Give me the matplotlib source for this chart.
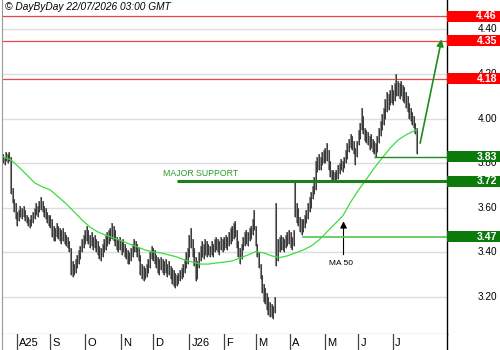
import matplotlib
matplotlib.use("Agg")
import matplotlib.pyplot as plt
import matplotlib.transforms as mtrans
from matplotlib.patches import Rectangle
import numpy as np
import pandas as pd

plt.rcParams['font.family'] = ['Liberation Sans', 'DejaVu Sans']

# ---------------- data ----------------
dates = pd.bdate_range('2025-07-21', '2026-07-22')

hi = [
3.84,3.83,3.85,3.84,3.85,3.83,3.69,3.64,3.62,3.58,
3.59,3.61,3.60,3.61,3.59,3.57,3.56,3.55,3.57,3.58,
3.60,3.62,3.61,3.63,3.65,3.63,3.61,3.60,3.58,3.57,
3.57,3.55,3.52,3.51,3.53,3.52,3.51,3.50,3.51,3.49,
3.48,3.47,3.45,3.42,3.36,3.35,3.37,3.39,3.41,3.43,
3.46,3.48,3.50,3.52,3.50,3.48,3.49,3.47,3.48,3.46,
3.45,3.43,3.42,3.44,3.46,3.48,3.49,3.50,3.51,3.53,
3.52,3.50,3.47,3.46,3.47,3.45,3.46,3.44,3.42,3.41,
3.40,3.42,3.44,3.46,3.45,3.44,3.42,3.39,3.35,3.34,
3.33,3.35,3.37,3.40,3.43,3.42,3.41,3.39,3.38,3.37,
3.38,3.37,3.36,3.37,3.35,3.36,3.34,3.33,3.32,3.31,
3.30,3.31,3.32,3.33,3.35,3.37,3.40,3.42,3.48,3.51,
3.46,3.42,3.38,3.36,3.40,3.43,3.45,3.44,3.46,3.45,
3.44,3.43,3.45,3.44,3.46,3.47,3.46,3.45,3.47,3.46,
3.47,3.48,3.47,3.49,3.51,3.52,3.53,3.54,3.50,3.45,
3.42,3.44,3.47,3.49,3.50,3.49,3.51,3.52,3.55,3.59,
3.52,3.44,3.40,3.35,3.30,3.26,3.24,3.22,3.20,3.18,
3.17,3.16,3.20,3.62,3.46,3.47,3.48,3.47,3.46,3.48,
3.49,3.50,3.49,3.47,3.50,3.72,3.62,3.60,3.56,3.55,
3.55,3.57,3.59,3.62,3.65,3.67,3.70,3.74,3.81,3.83,
3.84,3.83,3.85,3.86,3.87,3.89,3.86,3.81,3.77,3.77,
3.76,3.77,3.79,3.80,3.82,3.81,3.83,3.86,3.89,3.91,
3.93,3.92,3.90,3.87,3.90,3.95,3.98,4.05,4.01,3.96,
3.95,3.94,3.92,3.93,3.91,3.90,3.89,3.92,3.96,3.99,
4.02,4.05,4.09,4.12,4.11,4.13,4.15,4.13,4.16,4.20,
4.17,4.16,4.17,4.15,4.14,4.12,4.10,4.07,4.05,4.03,
4.01,3.98,3.96]

lo = [
3.80,3.79,3.81,3.80,3.81,3.66,3.62,3.58,3.55,3.52,
3.54,3.56,3.55,3.56,3.54,3.53,3.52,3.51,3.52,3.53,
3.55,3.57,3.56,3.58,3.59,3.58,3.56,3.55,3.53,3.52,
3.51,3.47,3.45,3.45,3.47,3.46,3.45,3.44,3.45,3.44,
3.43,3.42,3.40,3.30,3.29,3.30,3.31,3.33,3.35,3.37,
3.40,3.42,3.44,3.45,3.44,3.42,3.43,3.41,3.42,3.40,
3.39,3.37,3.36,3.38,3.40,3.41,3.43,3.44,3.45,3.46,
3.45,3.43,3.41,3.40,3.41,3.39,3.40,3.38,3.37,3.35,
3.35,3.36,3.38,3.40,3.40,3.38,3.36,3.30,3.28,3.27,
3.28,3.29,3.31,3.33,3.37,3.36,3.35,3.33,3.31,3.30,
3.32,3.31,3.30,3.31,3.29,3.30,3.28,3.26,3.25,3.24,
3.25,3.26,3.27,3.28,3.29,3.31,3.33,3.35,3.38,3.42,
3.38,3.34,3.27,3.28,3.33,3.36,3.38,3.37,3.39,3.38,
3.39,3.38,3.39,3.38,3.40,3.41,3.40,3.39,3.41,3.40,
3.41,3.42,3.41,3.43,3.44,3.45,3.46,3.47,3.42,3.38,
3.35,3.37,3.41,3.43,3.44,3.43,3.45,3.46,3.48,3.50,
3.43,3.38,3.33,3.28,3.22,3.18,3.17,3.14,3.12,3.11,
3.11,3.10,3.13,3.34,3.36,3.40,3.41,3.41,3.40,3.42,
3.43,3.44,3.42,3.41,3.43,3.56,3.53,3.52,3.49,3.48,
3.49,3.51,3.53,3.55,3.58,3.60,3.64,3.66,3.68,3.76,
3.77,3.77,3.79,3.80,3.80,3.81,3.77,3.74,3.72,3.72,
3.72,3.72,3.73,3.75,3.77,3.76,3.78,3.80,3.82,3.85,
3.87,3.86,3.84,3.79,3.83,3.88,3.91,3.95,3.93,3.90,
3.89,3.88,3.86,3.87,3.85,3.84,3.83,3.85,3.89,3.92,
3.95,3.97,4.00,4.03,4.04,4.06,4.07,4.06,4.08,4.10,
4.10,4.09,4.10,4.08,4.07,4.05,4.03,4.00,3.99,3.97,
3.96,3.93,3.84]

ma_idx = list(range(0, 261, 5)) + [262]
ma_val = [3.829,3.815,3.783,3.748,3.712,3.694,3.680,3.649,3.618,3.582,
          3.546,3.514,3.492,3.478,3.465,3.452,3.438,3.425,3.411,3.402,
          3.398,3.389,3.380,3.366,3.357,3.348,3.348,3.353,3.357,3.362,
          3.375,3.389,3.404,3.398,3.385,3.377,3.385,3.398,3.411,3.429,
          3.456,3.492,3.528,3.564,3.626,3.680,3.729,3.779,3.824,3.868,
          3.904,3.927,3.945,3.950]

resist_levels = [4.46, 4.35, 4.18]
support_levels = [3.83, 3.72, 3.47]
support_start = [235, 110, 189]
y_ticks = [3.20, 3.40, 3.60, 3.80, 4.00, 4.20, 4.40]
month_labels = ['A25', 'S', 'O', 'N', 'D', 'J26', 'F', 'M', 'A', 'M', 'J', 'J']
title_text = "\u00a9 DayByDay 22/07/2026 03:00 GMT"

# ---------------- figure ----------------
W, H = 500, 350
fig = plt.figure(figsize=(5, 3.5), dpi=100)
ax_l, ax_r, ax_bot = 2, 447, 334
ax = fig.add_axes([ax_l / W, (H - ax_bot) / H, (ax_r - ax_l) / W, ax_bot / H])
axd = fig.add_axes([ax_l / W, 0, (ax_r - ax_l) / W, (H - ax_bot) / H], sharex=ax)

n = len(dates)
idx = np.arange(n)
xmin, xmax = -0.65, 281.0
ymin, ymax = 3.0345, 4.532
ax.set_xlim(xmin, xmax)
ax.set_ylim(ymin, ymax)

for a in (ax, axd):
    a.tick_params(left=False, right=False, top=False, bottom=False,
                  labelleft=False, labelbottom=False)
    a.spines['top'].set_visible(False)
    a.spines['left'].set_color('#999999')
    a.spines['right'].set_color('#000000')
    a.spines['right'].set_linewidth(1.0)
ax.spines['bottom'].set_color('#444444')
axd.spines['bottom'].set_visible(False)
axd.set_ylim(0, 1)

# gridlines
for t in y_ticks:
    ax.axhline(t, color='#dddddd', lw=1.0, zorder=0)

# resistance lines
for lv in resist_levels:
    ax.axhline(lv, color='#ee4444', lw=0.9, zorder=1)

# price bars
ax.vlines(idx, lo, hi, colors='#8c8c8c', lw=1.5, zorder=2)
ax.vlines(idx, lo, hi, colors='#1a1a1a', lw=0.5, zorder=3)

# moving average
ax.plot(ma_idx, ma_val, color='#3ddc3d', lw=0.9, zorder=4)

# support lines
sup_colors = ['#1e8a1e', '#1e7d1e', '#55c455']
sup_lw = [1.0, 2.2, 1.2]
for lv, st, c, lw in zip(support_levels, support_start, sup_colors, sup_lw):
    ax.hlines(lv, st, xmax, colors=c, lw=lw, zorder=5)

ax.text(101.3, 3.756, 'MAJOR SUPPORT', color='#2a9a2a', fontsize=6.3,
        ha='left', va='center')

# projection arrow
ax.annotate('', xy=(277.6, 4.356), xytext=(264.0, 3.89),
            arrowprops=dict(arrowstyle='-|>', color='#1e8c1e', lw=1.2,
                            mutation_scale=10, shrinkA=0, shrinkB=0))

# MA 50 arrow
ax.annotate('', xy=(215.5, 3.54), xytext=(215.5, 3.39),
            arrowprops=dict(arrowstyle='-|>', color='#000000', lw=0.8,
                            mutation_scale=10, shrinkA=0, shrinkB=0))
ax.text(214.0, 3.349, 'MA 50', fontsize=6.0, ha='center', va='center')

# title
fig.text(5 / W, 1 - 7 / H, title_text, fontsize=7.3, style='italic',
         ha='left', va='center')

# right axis labels
trans = mtrans.blended_transform_factory(ax.transAxes, ax.transData)
lab_x = (497 - ax_l) / (ax_r - ax_l)
for t in y_ticks:
    ax.text(lab_x, t, f'{t:.2f}', transform=trans, fontsize=7.2,
            ha='right', va='center', clip_on=False, zorder=6)

# value boxes
box_h = 11 / 223.0
box_x1 = (500 - ax_l) / (ax_r - ax_l) + 0.01
for levels, fc in ((resist_levels, '#ff0000'), (support_levels, '#0b7a0b')):
    for lv in levels:
        r = Rectangle((1.0, lv - box_h / 2), box_x1 - 1.0, box_h, transform=trans,
                      facecolor=fc, edgecolor='none', clip_on=False, zorder=7)
        ax.add_patch(r)
        ax.text(lab_x, lv, f'{lv:.2f}', transform=trans, fontsize=7.6,
                fontweight='bold', color='white', ha='right', va='center',
                clip_on=False, zorder=8)

# month separators & labels
month_start = [i for i in range(1, n) if dates[i].month != dates[i - 1].month]
for i, lab in zip(month_start, month_labels):
    axd.axvline(i - 0.2, color='#444444', lw=0.9)
    axd.text(i + 1.2, 0.45, lab, fontsize=8, ha='left', va='center')

fig.savefig('out.png', dpi=100)
